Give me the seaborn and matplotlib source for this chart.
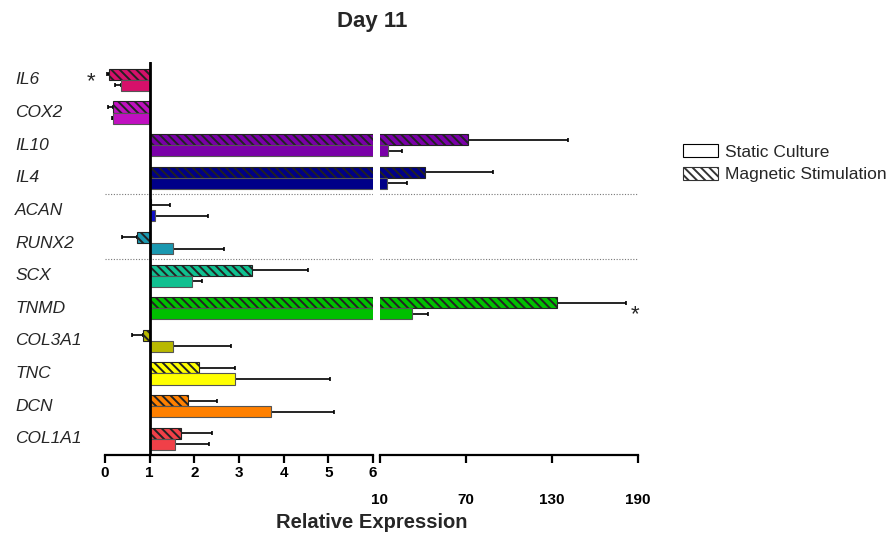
import numpy as np
import matplotlib
matplotlib.use("Agg")
import matplotlib.pyplot as plt
import matplotlib.transforms as mtransforms
from matplotlib.patches import Patch
import seaborn as sns

# genes listed bottom to top
genes = ['COL1A1', 'DCN', 'TNC', 'COL3A1', 'TNMD', 'SCX',
         'RUNX2', 'ACAN', 'IL4', 'IL10', 'COX2', 'IL6']
static_mean = [1.57, 3.71, 2.92, 1.53, 32.0, 1.95,
               1.53, 1.13, 14.7, 15.8, 0.19, 0.35]
static_err = [0.76, 1.42, 2.11, 1.29, 11.3, 0.23,
              1.14, 1.18, 13.9, 9.2, 0.04, 0.13]
magnetic_mean = [1.71, 1.85, 2.10, 0.86, 133.5, 3.28,
                 0.72, 1.02, 41.4, 71.6, 0.17, 0.10]
magnetic_err = [0.68, 0.65, 0.82, 0.25, 48.1, 1.27,
                0.33, 0.43, 47.6, 69.4, 0.10, 0.06]
colors = ['#F04048', '#FF8000', '#FFFF00', '#B8B800', '#00C000', '#10C090',
          '#1A98B0', '#1010C8', '#000088', '#7A00A8', '#C010C0', '#D6106A']
left_ticks = [0, 1, 2, 3, 4, 5, 6]
right_ticks = [10, 70, 130, 190]

sns.set_style("white")
plt.rcParams['font.family'] = ['Liberation Sans', 'DejaVu Sans']
plt.rcParams['hatch.linewidth'] = 1.4

fig = plt.figure(figsize=(8.94, 5.34), dpi=100)
ax1 = fig.add_axes([105 / 894, 79 / 534, 268 / 894, 393 / 534])
ax2 = fig.add_axes([380 / 894, 79 / 534, 258 / 894, 393 / 534], sharey=ax1)

y = np.arange(len(genes))
h = 0.34
for ax in (ax1, ax2):
    ax.set_facecolor('white')
    for i in range(len(genes)):
        # magnetic (hatched) on top, static (plain) below
        ax.barh(y[i] + h / 2, magnetic_mean[i] - 1, left=1, height=h,
                color=colors[i], edgecolor='#222222', linewidth=0.8,
                hatch='\\' * 4, zorder=2)
        ax.barh(y[i] - h / 2, static_mean[i] - 1, left=1, height=h,
                color=colors[i], edgecolor='#555555', linewidth=0.8, zorder=2)
        for m, e, yy in ((magnetic_mean[i], magnetic_err[i], y[i] + h / 2),
                         (static_mean[i], static_err[i], y[i] - h / 2)):
            xerr = [[0], [e]] if m >= 1 else [[e], [0]]
            ax.errorbar(m, yy, xerr=xerr, fmt='none', ecolor='black',
                        elinewidth=1.2, capsize=1.5, capthick=1.2, zorder=1)
    for sep in (7.5, 5.5):
        ax.axhline(sep, color='#777777', linestyle=(0, (1, 1.5)),
                   linewidth=0.8, zorder=0)
    for s in ('top', 'right', 'left'):
        ax.spines[s].set_visible(False)
    ax.spines['bottom'].set_linewidth(1.6)
    ax.spines['bottom'].set_color('black')
    ax.tick_params(axis='x', bottom=True, direction='out', length=6, width=1.6,
                   colors='black', labelsize=11, pad=2)
    ax.tick_params(axis='y', left=False, labelleft=False)

ax1.set_xlim(0, 6)
ax2.set_xlim(10, 190)
ax1.set_ylim(-0.5, 11.55)
ax1.set_xticks(left_ticks)
ax2.set_xticks(right_ticks)
ax1.set_xticklabels([str(t) for t in left_ticks], fontweight='bold')
ax2.set_xticklabels([str(t) for t in right_ticks], fontweight='bold')
ax2.tick_params(axis='x', pad=21)
ax1.axvline(1, color='black', linewidth=2, zorder=3)

# gene labels on the left
trans = mtransforms.blended_transform_factory(fig.transFigure, ax1.transData)
for i, g in enumerate(genes):
    ax1.text(15 / 894, y[i], g, transform=trans, ha='left', va='center',
             fontsize=12.5, fontstyle='italic')

# significance marks
ax1.text(91 / 894, 10.95, '*', transform=trans, ha='center', va='center',
         fontsize=16)
ax2.text(188, 3.8, '*', ha='center', va='center', fontsize=16)

fig.text(372 / 894, 1 - 22 / 534, 'Day 11', ha='center', va='center',
         fontsize=16, fontweight='bold')
fig.text(372 / 894, 1 - 522 / 534, 'Relative Expression', ha='center',
         va='center', fontsize=14.5, fontweight='bold')

handles = [Patch(facecolor='white', edgecolor='black', linewidth=0.8),
           Patch(facecolor='white', edgecolor='#333333', linewidth=0.8,
                 hatch='\\' * 4)]
fig.legend(handles, ['Static Culture', 'Magnetic Stimulation'],
           loc='upper left', bbox_to_anchor=(676 / 894, 1 - 137 / 534),
           frameon=False, fontsize=12.5, handlelength=2.0, handleheight=0.8,
           handletextpad=0.4, labelspacing=0.4, borderaxespad=0)

fig.savefig('out.png', dpi=100)
